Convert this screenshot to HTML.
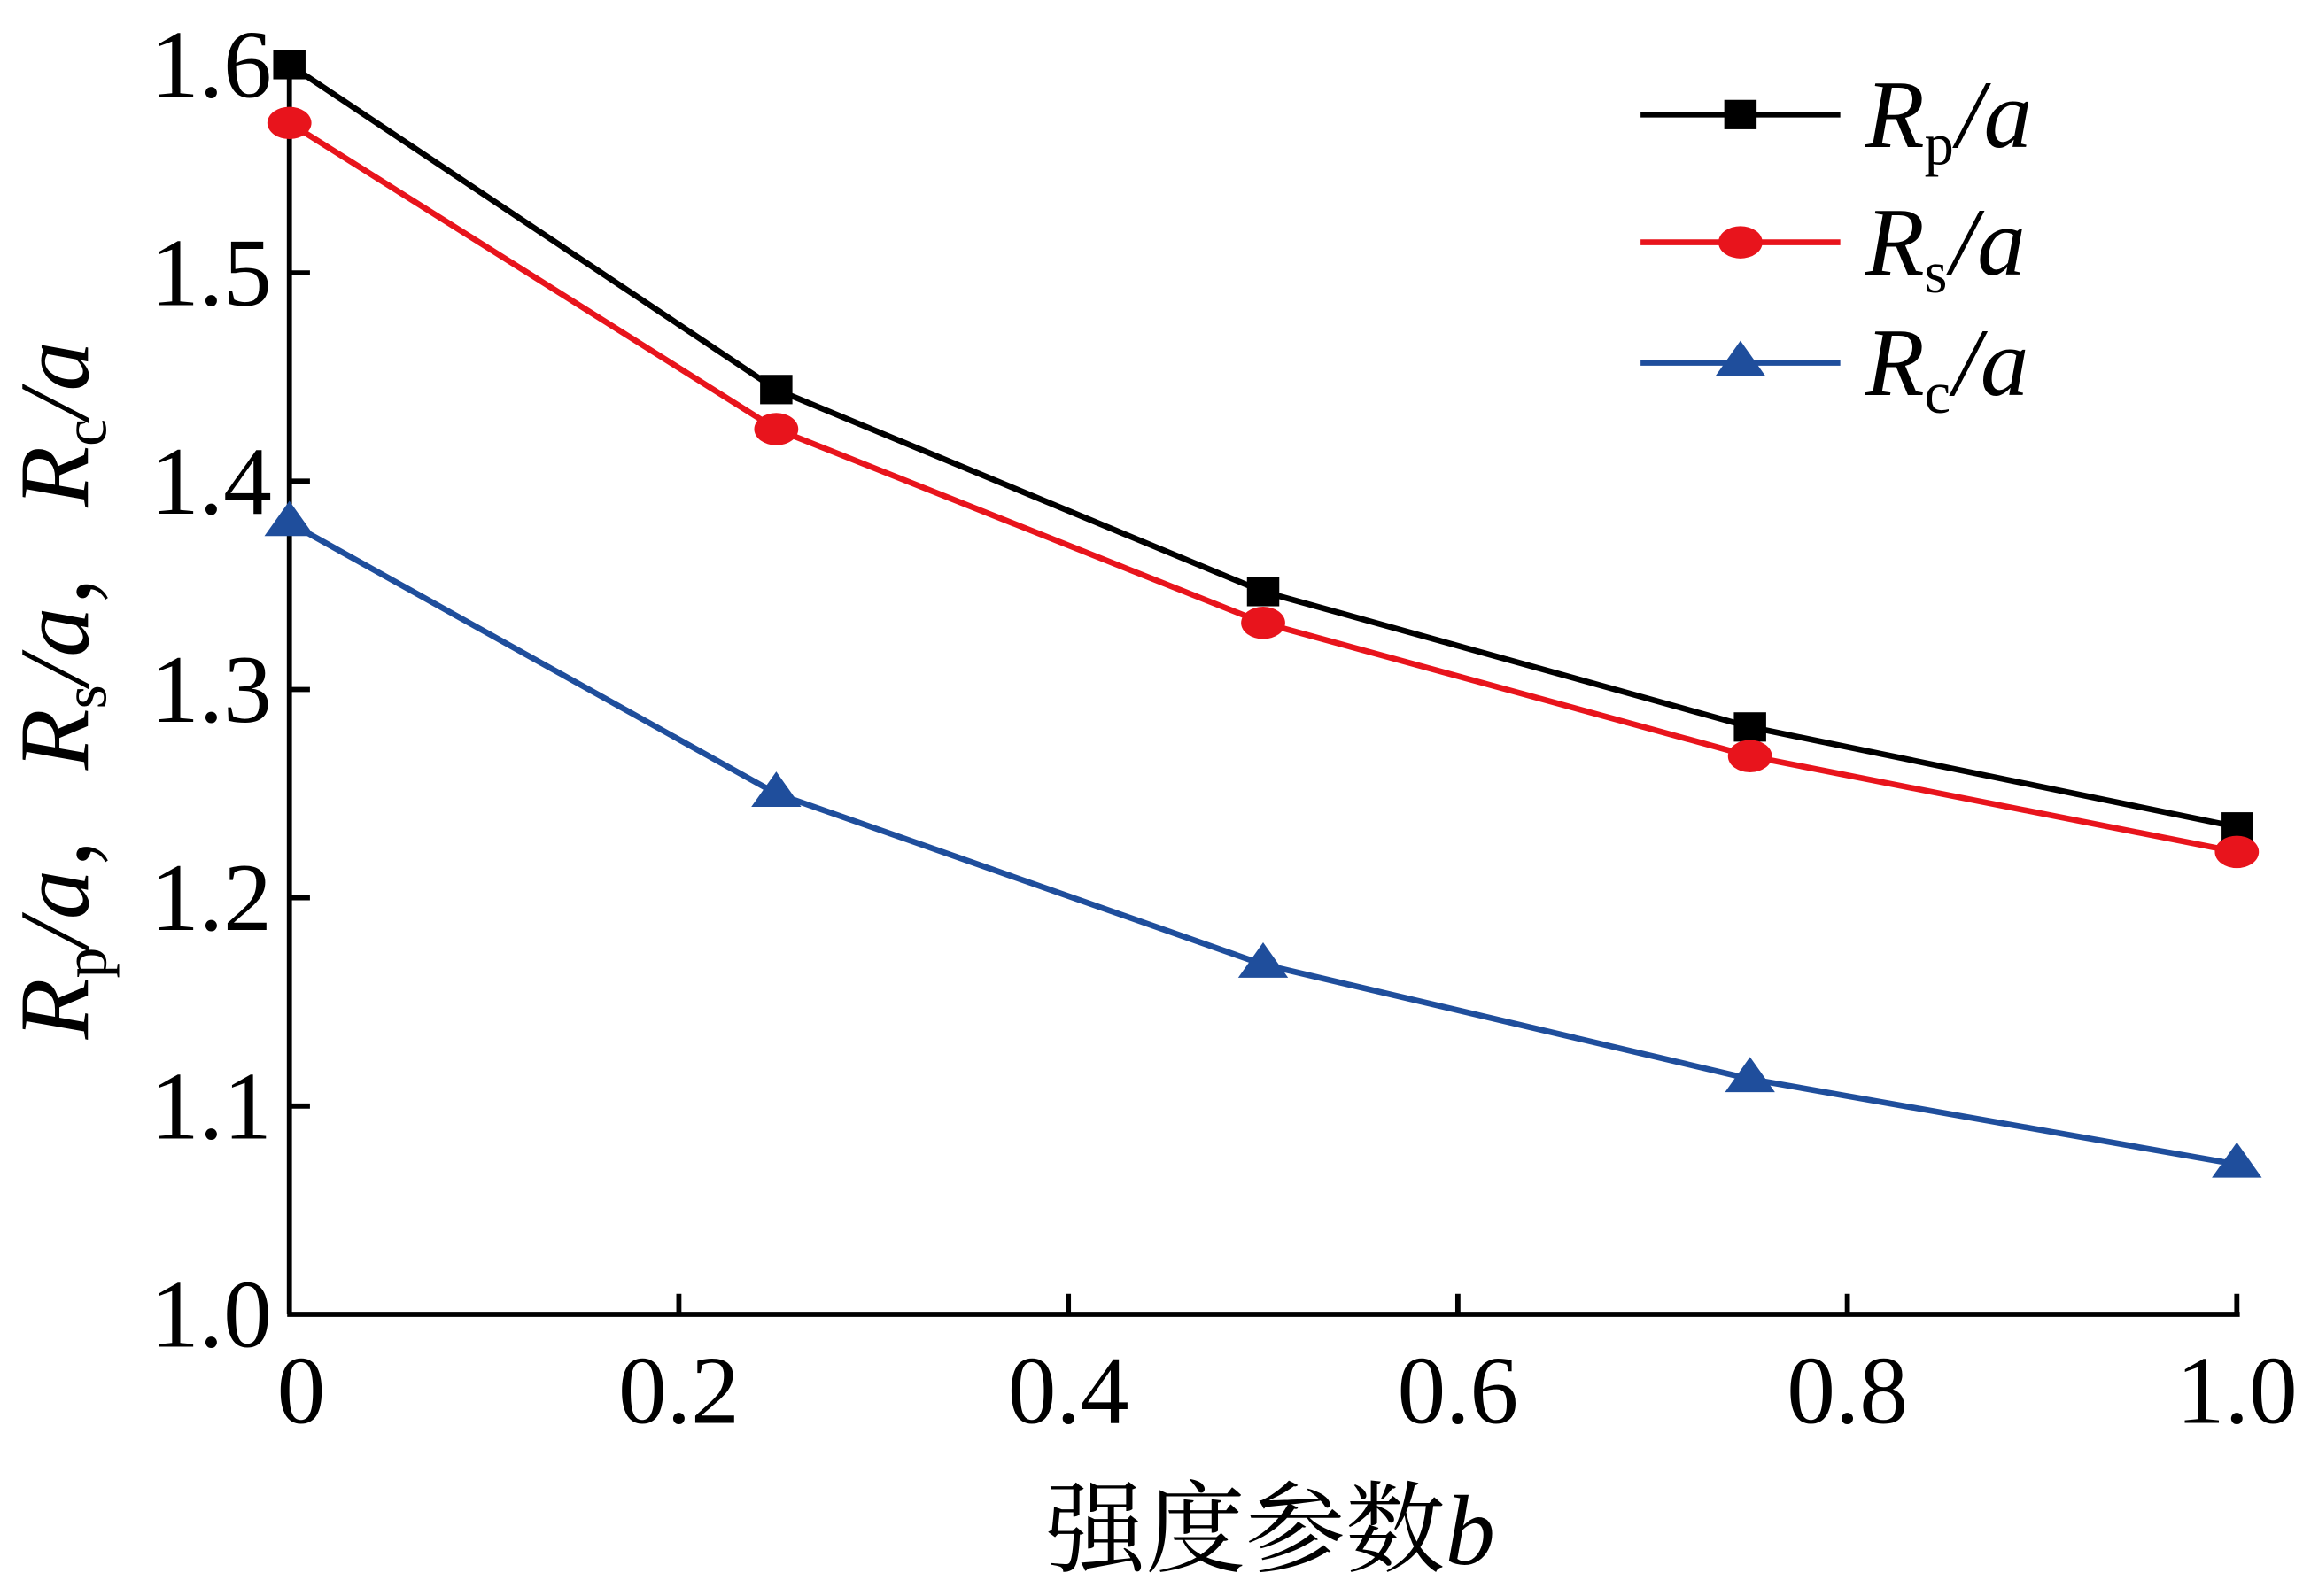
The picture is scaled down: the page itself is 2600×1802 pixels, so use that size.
<!DOCTYPE html>
<html><head><meta charset="utf-8"><style>html,body{margin:0;padding:0;background:#fff}svg{display:block}</style></head>
<body>
<svg id="chart" width="2600" height="1802" viewBox="0 0 1568 1086.8" xmlns="http://www.w3.org/2000/svg" font-family="'Liberation Serif','Noto Serif CJK SC',serif">
<g id="axes"></g>
<g id="series"></g>
<g id="legend"></g>
<text transform="translate(60,470) rotate(-90)" text-anchor="middle" font-size="68" fill="#000"><tspan font-style="italic">R</tspan><tspan font-size="42" dy="12">p</tspan><tspan dy="-12" font-style="italic">/a</tspan>，<tspan font-style="italic">R</tspan><tspan font-size="42" dy="12">s</tspan><tspan dy="-12" font-style="italic">/a</tspan>，<tspan font-style="italic">R</tspan><tspan font-size="42" dy="12">c</tspan><tspan dy="-12" font-style="italic">/a</tspan></text>
<text x="865" y="1065" text-anchor="middle" font-size="68" fill="#000">强度参数<tspan font-style="italic">b</tspan></text>
</svg>
<script>
const xValues=[0,0.25,0.5,0.75,1.0];
const rpValues=[1.600,1.444,1.347,1.282,1.234];
const rsValues=[1.572,1.425,1.332,1.268,1.222];
const rcValues=[1.380,1.250,1.168,1.113,1.072];
const xTicks=[0,0.2,0.4,0.6,0.8,1.0];
const xTickLabels=["0","0.2","0.4","0.6","0.8","1.0"];
const yTicks=[1.0,1.1,1.2,1.3,1.4,1.5,1.6];
const yTickLabels=["1.0","1.1","1.2","1.3","1.4","1.5","1.6"];
const NS="http://www.w3.org/2000/svg";
const X0=197,X1=1523,Y0=895,Y1=44;
function sx(v){return X0+(v-0)/(1-0)*(X1-X0);}
function sy(v){return Y0-(v-1.0)/(0.6)*(Y0-Y1);}
function mk(tag,attrs,parent){const e=document.createElementNS(NS,tag);for(const k in attrs)e.setAttribute(k,attrs[k]);parent.appendChild(e);return e;}
const axes=document.getElementById('axes');
let l=mk('line',{x1:X0,y1:Y0,x2:X0,y2:Y1-5,stroke:'#000','stroke-width':3.5},axes);


l=mk('line',{x1:X0-1.5,y1:Y0,x2:X1+2,y2:Y0,stroke:'#000','stroke-width':3.5},axes);


xTicks.forEach((v,i)=>{
  if(i>0){const t=mk('line',{x1:sx(v),y1:Y0,x2:sx(v),y2:Y0-14,stroke:'#000','stroke-width':3.5},axes);
  
  }
  const tx=mk('text',{x:sx(v)+(i===0?8:0),y:Y0+74,'text-anchor':'middle','font-size':66},axes);
  tx.textContent=xTickLabels[i];
  
  
});
yTicks.forEach((v,i)=>{
  if(i>0&&i<yTicks.length-1){const t=mk('line',{x1:X0,y1:sy(v),x2:X0+14,y2:sy(v),stroke:'#000','stroke-width':3.5},axes);
  
  }
  const tx=mk('text',{x:X0-12,y:sy(v)+22,'text-anchor':'end','font-size':66},axes);
  tx.textContent=yTickLabels[i];
  
  
});
const ser=document.getElementById('series');
function marker(type,x,y,color,parent){
  let m;
  if(type==='square')m=mk('rect',{x:x-11,y:y-10,width:22,height:20,fill:color},parent);
  else if(type==='circle')m=mk('ellipse',{cx:x,cy:y,rx:15,ry:11,fill:color},parent);
  else m=mk('polygon',{points:`${x},${y-15} ${x-17},${y+9} ${x+17},${y+9}`,fill:color},parent);
  return m;
}
const defs=[['rp',rpValues,'#000','square'],['rs',rsValues,'#e8141c','circle'],['rc',rcValues,'#1f4e9c','triangle']];
defs.forEach(([name,vals,color,type])=>{
  const g=mk('g',{},ser);
  
  
  const pl=mk('polyline',{points:vals.map((v,i)=>sx(xValues[i])+','+sy(v)).join(' '),fill:'none',stroke:color,'stroke-width':4},g);
  
  
  vals.forEach((v,i)=>{const m=marker(type,sx(xValues[i]),sy(v),color,g);
    
    });
});
const leg=document.getElementById('legend');
const legY=[78,165,247];
const legSub=['p','s','c'];
defs.forEach(([name,vals,color,type],i)=>{
  const g=mk('g',{},leg);
  
  
  mk('line',{x1:1117,y1:legY[i],x2:1253,y2:legY[i],stroke:color,'stroke-width':4},g);
  marker(type,1185,legY[i],color,g);
  const t=mk('text',{x:1270,y:legY[i]+22,'font-size':66,'font-style':'italic'},g);
  t.innerHTML='R<tspan font-size="40" font-style="normal" dy="12">'+legSub[i]+'</tspan><tspan dy="-12" dx="2">/a</tspan>';
});
</script>
</body></html>
